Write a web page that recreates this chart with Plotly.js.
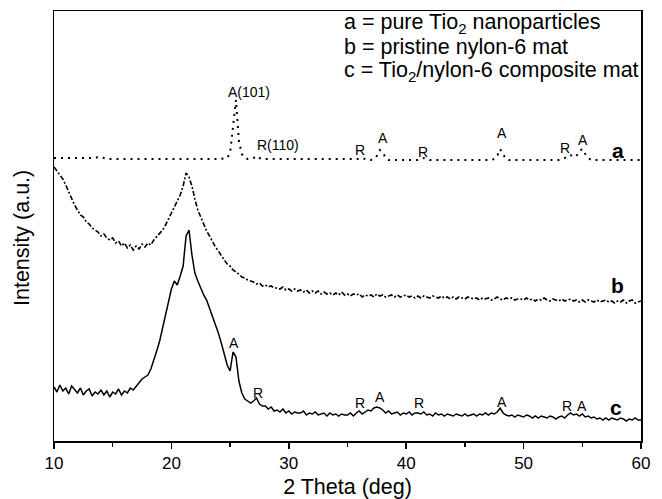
<!DOCTYPE html>
<html>
<head>
<meta charset="utf-8">
<script src="https://cdn.plot.ly/plotly-3.0.1.min.js"></script>
<style>html,body{margin:0;padding:0;background:#fff;}#chart{width:662px;height:499px;}</style>
</head>
<body>
<div id="chart"></div>
<script>
// 2-theta grid: 10 to 60 deg, step 0.25
const thetaStart = 10, thetaStep = 0.25, thetaCount = 201;
const twoTheta = [];
for (let i = 0; i < thetaCount; i++) twoTheta.push(+(thetaStart + i * thetaStep).toFixed(2));

// a = pure TiO2 nanoparticles (offset trace, a.u.)
const seriesA = [
  283,283,283,283, 283,283,283,283, 283,283,283,283, 283,283,283,284,   // 10-13
  284,283,282,282, 282,282,282,282, 282,282,282,282, 282,282,282,282,   // 14-17
  282,282,282,282, 282,282,282,282, 282,282,282,282, 282,282,282,282,   // 18-21
  282,282,282,282, 282,282,282,282, 282,282,283,283, 288,318,341,300,   // 22-25
  287,283,282,282, 283,285,283,282, 282,282,282,282, 282,282,282,282,   // 26-29
  282,282,282,282, 282,282,282,282, 282,282,282,282, 282,282,282,282,   // 30-33
  282,282,282,282, 282,282,282,282, 282,283,282,281, 281,282,285,291,   // 34-37
  289,283,281,281, 281,281,281,281, 281,281,281,281, 281,282,283,282,   // 38-41
  281,281,281,281, 281,281,281,281, 281,281,281,281, 281,281,281,281,   // 42-45
  281,281,281,281, 281,281,282,285, 292,287,282,281, 281,281,281,281,   // 46-49
  281,281,281,281, 281,281,281,281, 281,281,281,281, 281,282,283,285,   // 50-53
  286,284,285,290, 292,287,283,281, 281,281,281,281, 281,281,281,281,   // 54-57
  281,281,281,281, 281,281,281,281, 281                                 // 58-60
];

// b = pristine nylon-6 mat
const seriesB = [
  274,270,265,262, 256,249,242,236, 231,226,224,219, 217,213,211,209,
  205,207,203,201, 203,198,200,195, 198,193,196,191, 195,192,197,194,
  198,196,201,204, 207,211,216,222, 228,233,240,246, 255,268,264,255,
  242,231,224,216, 210,205,199,194, 190,185,181,177, 175,171,169,167,
  164,163,161,160, 159,157,158,155, 156,154,155,153, 153,152,154,151,
  152,150,152,150, 151,149,151,148, 150,148,150,147, 149,147,148,146,
  148,146,149,146, 147,145,147,146, 147,144,146,145, 146,144,147,145,
  146,144,145,146, 144,146,144,145, 146,144,145,143, 145,143,145,144,
  143,145,144,143, 145,143,144,142, 144,142,144,143, 142,144,143,142,
  143,141,143,142, 143,141,142,144, 142,141,143,142, 143,141,142,142,
  141,143,141,142, 140,142,141,143, 141,140,142,141, 140,142,140,141,
  142,140,141,139, 141,139,141,140, 139,141,139,140, 141,139,140,138,
  140,139,141,138, 140,141,138,139, 140
];

// c = TiO2/nylon-6 composite mat
const seriesC = [
  54,49,56,50, 53,47,55,51, 48,53,46,50, 52,45,49,47,
  51,46,50,44, 49,47,52,46, 50,48,53,51, 55,58,62,64,
  66,72,80,90, 100,113,128,142, 152,160,156,165, 175,205,211,186,
  168,160,152,146, 141,133,125,116, 108,98,88,76, 70,89,84,60,
  48,42,40,38, 40,43,37,35, 35,32,34,30, 31,29,32,28,
  30,27,29,28, 28,30,26,28, 27,29,26,27, 28,25,28,26,
  27,25,27,26, 26,28,25,28, 30,27,29,31, 30,33,34,33,
  31,28,30,27, 28,29,26,28, 27,29,26,28, 28,27,29,26,
  27,25,28,26, 27,25,27,26, 25,27,26,25, 27,25,26,27,
  25,27,26,28, 26,28,27,29, 33,28,26,25, 26,24,26,25,
  24,26,25,23, 25,23,25,24, 23,25,24,22, 24,25,23,26,
  28,26,27,25, 27,24,25,23, 24,22,23,21, 23,21,23,22,
  21,23,22,20, 22,21,23,21, 21
];

// Peak labels: text, 2theta, intensity position
const peakText = ["A(101)","R(110)","R","A","R","A","R","A",
                  "A","R","R","A","R","A","R","A"];
const peakX    = [26.6, 29.1, 36.1, 38.0, 41.4, 48.2, 53.5, 55.1,
                  25.3, 27.4, 36.1, 37.8, 41.1, 48.2, 53.7, 55.0];
const peakY    = [349, 296, 291, 303, 289, 308, 293, 301,
                  98, 48, 38, 44, 38, 39, 35, 35];

const curveText = ["a","b","c"];
const curveLabX = [58.0, 58.0, 57.9];
const curveLabY = [291, 156, 34];

const legendLines = ["a = pure Tio<sub>2</sub> nanoparticles",
                     "b = pristine nylon-6 mat",
                     "c = Tio<sub>2</sub>/nylon-6 composite mat"];

const FONT = "Liberation Sans, Arial, sans-serif";

const traces = [
  {x: twoTheta, y: seriesA, mode: "lines", line: {color: "#000", width: 2, dash: "2px,5px"}, hoverinfo: "skip"},
  {x: twoTheta, y: seriesB, mode: "lines", line: {color: "#000", width: 1.6, dash: "5px,2px,2px,2px"}, hoverinfo: "skip"},
  {x: twoTheta, y: seriesC, mode: "lines", line: {color: "#000", width: 1.5}, hoverinfo: "skip"}
];

const annotations = [];
for (let i = 0; i < peakText.length; i++) {
  annotations.push({x: peakX[i], y: peakY[i], xref: "x", yref: "y", text: peakText[i],
    showarrow: false, font: {family: FONT, size: 14, color: "#000"}});
}
for (let i = 0; i < curveText.length; i++) {
  annotations.push({x: curveLabX[i], y: curveLabY[i], xref: "x", yref: "y", text: "<b>" + curveText[i] + "</b>",
    showarrow: false, font: {family: FONT, size: 21, color: "#000"}});
}
const legendYpx = [23, 47, 71];
for (let i = 0; i < legendLines.length; i++) {
  annotations.push({x: (342 - 54) / 587, y: 1 - (legendYpx[i] - 11) / 430, xref: "paper", yref: "paper",
    xanchor: "left", yanchor: "middle", text: legendLines[i], showarrow: false,
    font: {family: FONT, size: 21.5, color: "#000"}});
}
// y-axis title placed as rotated annotation (pixel x 22, y 238)
annotations.push({x: (22 - 54) / 587, y: 1 - (238 - 11) / 430, xref: "paper", yref: "paper",
  xanchor: "center", yanchor: "middle", textangle: -90, text: "Intensity (a.u.)", showarrow: false,
  font: {family: FONT, size: 21.5, color: "#000"}});

const layout = {
  width: 662, height: 499,
  margin: {l: 54, r: 21, t: 11, b: 58, pad: 0},
  paper_bgcolor: "#fff", plot_bgcolor: "#fff",
  showlegend: false,
  font: {family: FONT, color: "#000"},
  xaxis: {
    range: [10, 60], dtick: 10, tick0: 10, ticks: "outside", ticklen: 6, tickwidth: 1.5, tickcolor: "#000",
    minor: {dtick: 5, tick0: 10, ticks: "outside", ticklen: 4, tickwidth: 1.5, tickcolor: "#000"},
    showgrid: false, zeroline: false, showline: true, linecolor: "#000", linewidth: 1.5, mirror: true,
    tickfont: {family: FONT, size: 17, color: "#000"},
    title: {text: "2 Theta (deg)", font: {family: FONT, size: 21.5, color: "#000"}, standoff: 7}
  },
  yaxis: {
    range: [0, 430], showticklabels: false, ticks: "", showgrid: false, zeroline: false,
    showline: true, linecolor: "#000", linewidth: 1.5, mirror: true
  },
  annotations: annotations
};

Plotly.newPlot("chart", traces, layout, {displayModeBar: false, staticPlot: true});
</script>
</body>
</html>
